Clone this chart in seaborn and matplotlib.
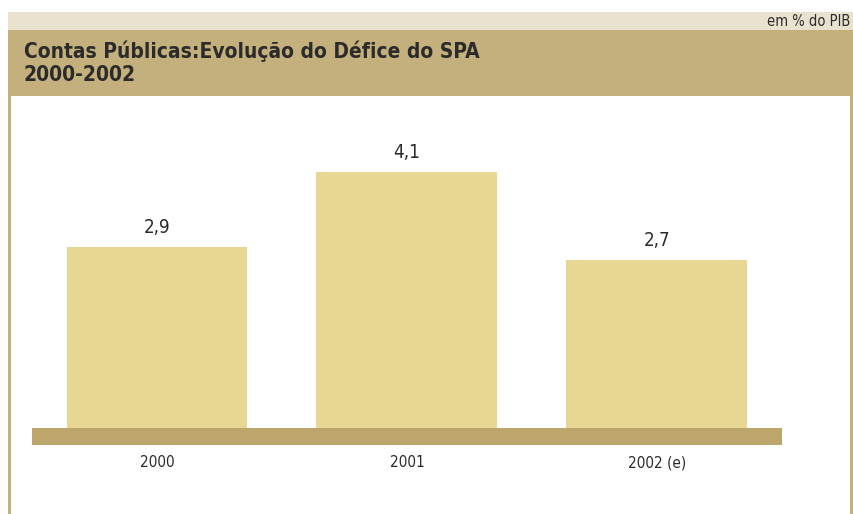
import matplotlib
matplotlib.use("Agg")
import matplotlib.pyplot as plt
from matplotlib.patches import Rectangle
import pandas as pd
import seaborn as sns

# --- data ---
years = ["2000", "2001", "2002 (e)"]
deficit = [2.9, 4.1, 2.7]
value_labels = ["2,9", "4,1", "2,7"]

TITLE = "Contas Públicas:Evolução do Défice do SPA\n2000-2002"
UNIT = "em % do PIB"

W, H = 854, 514
BAR_COLOR = "#E8D793"
FLOOR_COLOR = "#BCA66B"
HEADER_COLOR = "#C4B07C"
STRIP_COLOR = "#E9E2CF"
TEXT_COLOR = "#2b2b2b"

sns.set_theme(style="white")
plt.rcParams["font.family"] = ["DejaVu Sans"]
plt.rcParams["font.stretch"] = "condensed"

fig = plt.figure(figsize=(W / 100, H / 100), dpi=100)


def px_rect(x0, y0, x1, y1, color, z=0):
    """rectangle in pixel coords measured from the top-left corner"""
    fig.patches.append(Rectangle((x0 / W, 1 - y1 / H), (x1 - x0) / W, (y1 - y0) / H,
                                 transform=fig.transFigure, facecolor=color,
                                 edgecolor="none", zorder=z))


# frame / header decoration
px_rect(8, 12, W, 30, STRIP_COLOR)
px_rect(8, 30, W, 96, HEADER_COLOR)
px_rect(8, 96, 11, H, HEADER_COLOR)
px_rect(850, 96, W, H, HEADER_COLOR)

fig.text(850 / W, 1 - 21 / H, UNIT, ha="right", va="center", fontsize=10.5,
         color=TEXT_COLOR, fontstretch="condensed")
fig.text(24 / W, 1 - 63 / H, TITLE, ha="left", va="center", fontsize=15,
         fontweight="bold", color=TEXT_COLOR, linespacing=1.2,
         fontstretch="condensed")

# bar axes: spans the floor width, bottom at the floor top
ax_l, ax_r, ax_b, ax_t = 32, 782, 428, 110
ax = fig.add_axes([ax_l / W, 1 - ax_b / H, (ax_r - ax_l) / W, (ax_b - ax_t) / H])
df = pd.DataFrame({"Ano": years, "Defice": deficit})
sns.barplot(data=df, x="Ano", y="Defice", color=BAR_COLOR, width=0.724,
            saturation=1, linewidth=0, ax=ax)
ax.set_xlim(-0.5, 2.5)
ax.set_ylim(0, 5.1)
ax.set_axis_off()

for i, (v, lab) in enumerate(zip(deficit, value_labels)):
    ax.annotate(lab, (i, v), xytext=(0, 14), textcoords="offset points",
                ha="center", va="center", fontsize=13.5, color=TEXT_COLOR,
                fontstretch="condensed")
    ax.annotate(years[i], (i, 0), xytext=(0, -25), textcoords="offset points",
                ha="center", va="center", fontsize=11, color=TEXT_COLOR,
                annotation_clip=False, fontstretch="condensed")

# floor under the bars
px_rect(32, 428, 782, 445, FLOOR_COLOR, z=3)

fig.savefig("out.png", dpi=100)
